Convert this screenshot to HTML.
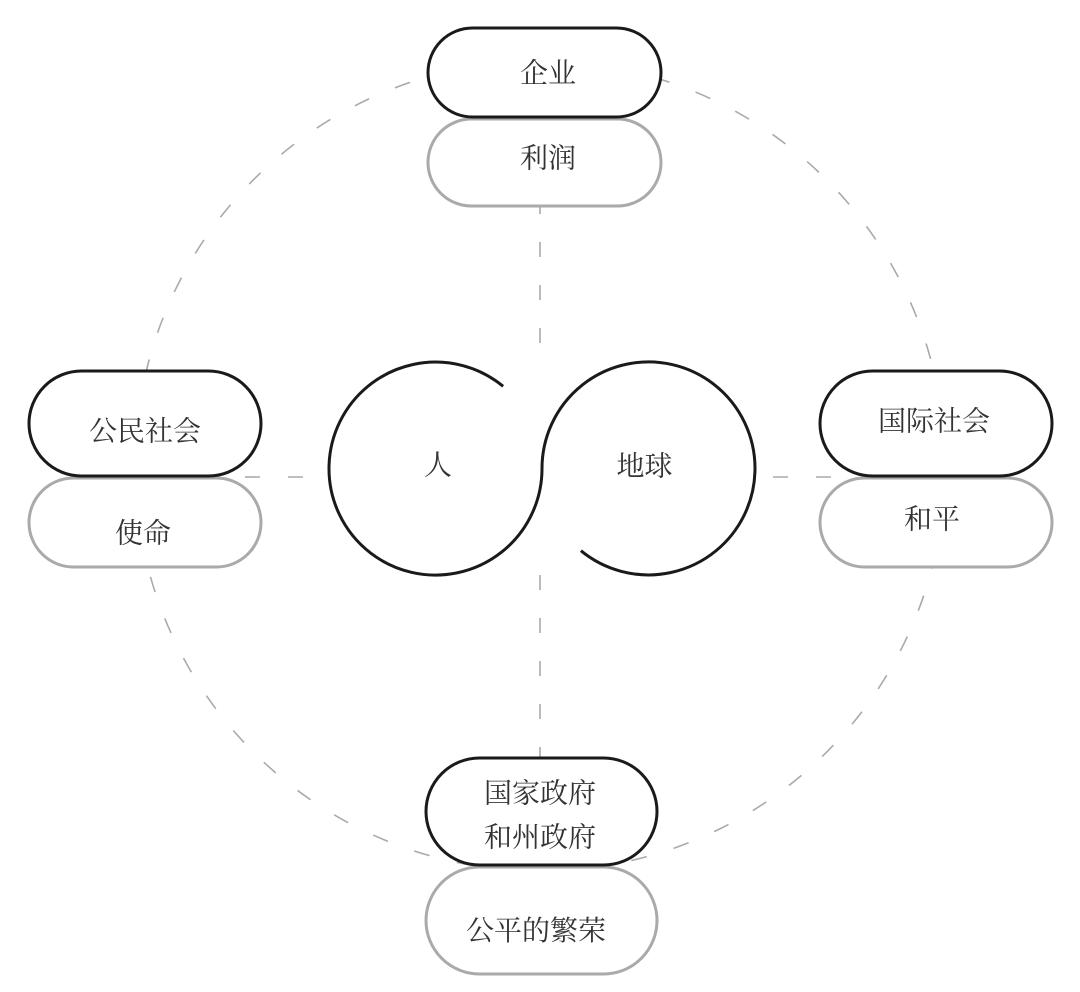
<!DOCTYPE html>
<html>
<head>
<meta charset="utf-8">
<style>
  html, body { margin: 0; padding: 0; background: #ffffff; }
  body { width: 1080px; height: 992px; overflow: hidden; }
  svg { display: block; }
  text {
    font-family: "Liberation Serif", "Noto Serif CJK SC", "Noto Sans CJK SC", serif;
    font-size: 28px;
    fill: #333333;
    text-anchor: middle;
  }
</style>
</head>
<body>
<svg width="1080" height="992" viewBox="0 0 1080 992" xmlns="http://www.w3.org/2000/svg">
  <!-- big dashed circle -->
  <circle cx="540" cy="466" r="405" fill="none" stroke="#aaaaaa" stroke-width="1.6" stroke-dasharray="16 28"/>

  <!-- vertical dashed connectors -->
  <line x1="540" y1="199" x2="540" y2="352" stroke="#aaaaaa" stroke-width="1.6" stroke-dasharray="15 28"/>
  <line x1="540" y1="575" x2="540" y2="762" stroke="#aaaaaa" stroke-width="1.6" stroke-dasharray="15 28"/>

  <!-- horizontal dashed connectors -->
  <line x1="245" y1="477" x2="304" y2="477" stroke="#aaaaaa" stroke-width="1.6" stroke-dasharray="15 28"/>
  <line x1="773" y1="477" x2="833" y2="477" stroke="#aaaaaa" stroke-width="1.6" stroke-dasharray="15 28"/>

  <!-- center S-shape circles -->
  <path d="M 503.1 386.3 A 106.5 106.5 0 1 0 542 468.5 A 106.5 106.5 0 1 1 580.9 550.7"
        fill="none" stroke="#1a1a1a" stroke-width="3"/>

  <!-- top pills -->
  <rect x="428" y="119" width="233" height="87" rx="43.5" ry="43.5" fill="#fff" stroke="#aaaaaa" stroke-width="3"/>
  <rect x="428" y="28" width="233" height="89" rx="44.5" ry="44.5" fill="#fff" stroke="#1a1a1a" stroke-width="3"/>

  <!-- left pills -->
  <rect x="29" y="478" width="232" height="89" rx="44.5" ry="44.5" fill="#fff" stroke="#aaaaaa" stroke-width="3"/>
  <rect x="29" y="371" width="232" height="105" rx="52.5" ry="52.5" fill="#fff" stroke="#1a1a1a" stroke-width="3"/>

  <!-- right pills -->
  <rect x="820" y="478" width="232" height="89" rx="44.5" ry="44.5" fill="#fff" stroke="#aaaaaa" stroke-width="3"/>
  <rect x="820" y="371" width="232" height="105" rx="52.5" ry="52.5" fill="#fff" stroke="#1a1a1a" stroke-width="3"/>

  <!-- bottom pills -->
  <rect x="426" y="867" width="231" height="107" rx="53.5" ry="53.5" fill="#fff" stroke="#aaaaaa" stroke-width="3"/>
  <rect x="426" y="758" width="231" height="107" rx="53.5" ry="53.5" fill="#fff" stroke="#1a1a1a" stroke-width="3"/>

  <!-- labels -->
  <text x="548" y="82.5">企业</text>
  <text x="548" y="167.5">利润</text>

  <text x="145" y="440.5">公民社会</text>
  <text x="143" y="542.5">使命</text>

  <text x="934" y="430.5">国际社会</text>
  <text x="932" y="528.5">和平</text>

  <text x="540" y="802.5">国家政府</text>
  <text x="540" y="846.5">和州政府</text>
  <text x="536" y="940">公平的繁荣</text>

  <text x="438" y="474.5">人</text>
  <text x="644.5" y="475.5">地球</text>
</svg>
</body>
</html>
